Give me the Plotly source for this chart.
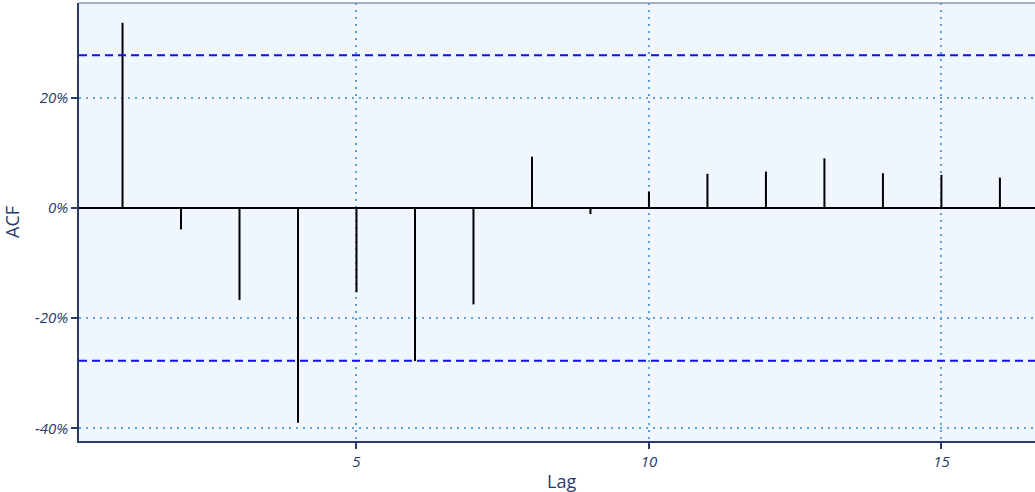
import plotly.graph_objects as go

# ACF values by lag
lags = list(range(1, 17))
acf = [0.336, -0.039, -0.167, -0.390, -0.153, -0.278, -0.175, 0.093,
       -0.011, 0.030, 0.062, 0.066, 0.090, 0.063, 0.060, 0.055]
conf = 0.2772  # 1.96/sqrt(n)

y_ticks = [-0.4, -0.2, 0.0, 0.2]
y_tick_text = ["-40%", "-20%", "0%", "20%"]
x_ticks = [5, 10, 15]

navy = "#2a3a6a"
grid = "rgb(95,160,222)"

# stems from zero
xs, ys = [], []
for lag, v in zip(lags, acf):
    xs += [lag, lag, None]
    ys += [0, v, None]

fig = go.Figure()
fig.add_trace(go.Scatter(x=xs, y=ys, mode="lines",
                         line=dict(color="black", width=2),
                         hoverinfo="skip", showlegend=False))

# confidence bounds
for c in [conf, -conf]:
    fig.add_hline(y=c, line=dict(color="#1010e8", width=2, dash="8px,5px"))

fig.update_layout(
    width=1035, height=492,
    margin=dict(l=79, r=0, t=3, b=51),
    paper_bgcolor="white",
    plot_bgcolor="#EFF6FE",
    font=dict(family="Open Sans, Noto Sans, sans-serif", color=navy),
    showlegend=False,
)

fig.update_xaxes(
    range=[0.256, 16.6],
    tickvals=x_ticks,
    ticks="outside", ticklen=6, tickcolor=navy, tickwidth=2,
    tickfont=dict(size=15, style="italic", color=navy),
    showline=True, linecolor=navy, linewidth=1.5,
    showgrid=True, gridcolor=grid, gridwidth=2, griddash="2px,5px",
    zeroline=False,
)
fig.update_yaxes(
    range=[-0.423, 0.372],
    tickvals=y_ticks, ticktext=y_tick_text,
    ticks="outside", ticklen=6, tickcolor=navy, tickwidth=2,
    tickfont=dict(size=15, style="italic", color=navy),
    showline=True, linecolor=navy, linewidth=1.5,
    showgrid=True, gridcolor=grid, gridwidth=2, griddash="2px,5px",
    zeroline=True, zerolinecolor="black", zerolinewidth=2,
    title=dict(text="ACF", font=dict(size=18, color=navy), standoff=14),
)

# top border of plot area
fig.add_shape(type="line", xref="paper", yref="paper", x0=0, x1=1, y0=1, y1=1,
              line=dict(color="#8a96b4", width=1.5))

# x title centred on the full (partly hidden) panel
fig.add_annotation(text="Lag", xref="paper", yref="paper", x=0.5047, y=0,
                   yshift=-40, yanchor="middle", showarrow=False,
                   font=dict(size=18, color=navy))

fig.write_html("out.html", config={"displayModeBar": False},
               post_script="document.body.style.margin='0';")
